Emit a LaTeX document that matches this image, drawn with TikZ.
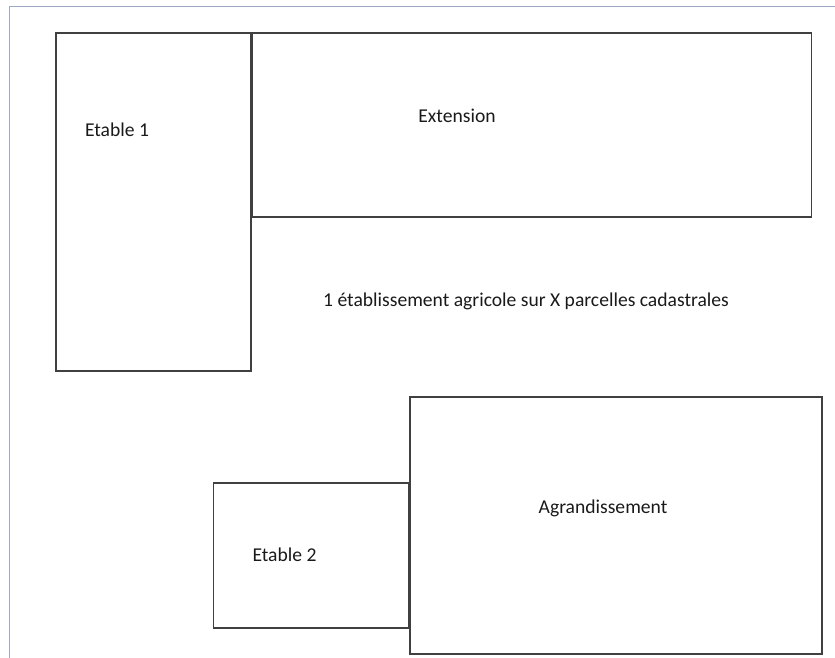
\documentclass[tikz,border=0pt]{standalone}
\usepackage{fontspec}
\setmainfont{Carlito}
\usepackage{tikz}

\definecolor{linegray}{HTML}{404040}
\definecolor{framecol}{HTML}{9DAAC6}
\definecolor{textgray}{HTML}{1A1A1A}

\tikzset{
    lot/.style={draw=linegray, line width=1.5pt, inner sep=0pt, minimum width=#1},
    lotlabel/.style={text=textgray, font=\fontsize{19.6}{22}\selectfont, inner sep=0pt},
}

\begin{document}
\begin{tikzpicture}[x=1pt,y=-1pt]
\useasboundingbox (0,0) rectangle (835,658);

% cadre de la page
\coordinate (fbl) at (9,658);
\coordinate (ftl) at (9,7);
\coordinate (ftr) at (835,7);
\draw[framecol, line width=1pt] (fbl) -- (ftl) -- (ftr);

% Etable 1 et Extension
\node[lot=195pt, minimum height=338pt] (etable1) at (153.5,202) {};
\node[lot=559pt, minimum height=184pt, anchor=north west] (extension) at (etable1.north east) {};
\node[lotlabel] (etable1txt) at (117,130) {Etable 1};
\node[lotlabel] (extensiontxt) at (457,116) {Extension};

% Texte central
\node[lotlabel] (etablissement) at (526,301) {1 établissement agricole sur X parcelles cadastrales};

% Etable 2 et Agrandissement
\node[lot=412pt, minimum height=257pt] (agrandissement) at (616,525.5) {};
\node[lot=195pt, minimum height=145pt, anchor=north east] (etable2) at (agrandissement.west |- 0,482) {};
\node[lotlabel] (etable2txt) at (284.5,555) {Etable 2};
\node[lotlabel] (agrandissementtxt) at (603,508) {Agrandissement};
\end{tikzpicture}
\end{document}
